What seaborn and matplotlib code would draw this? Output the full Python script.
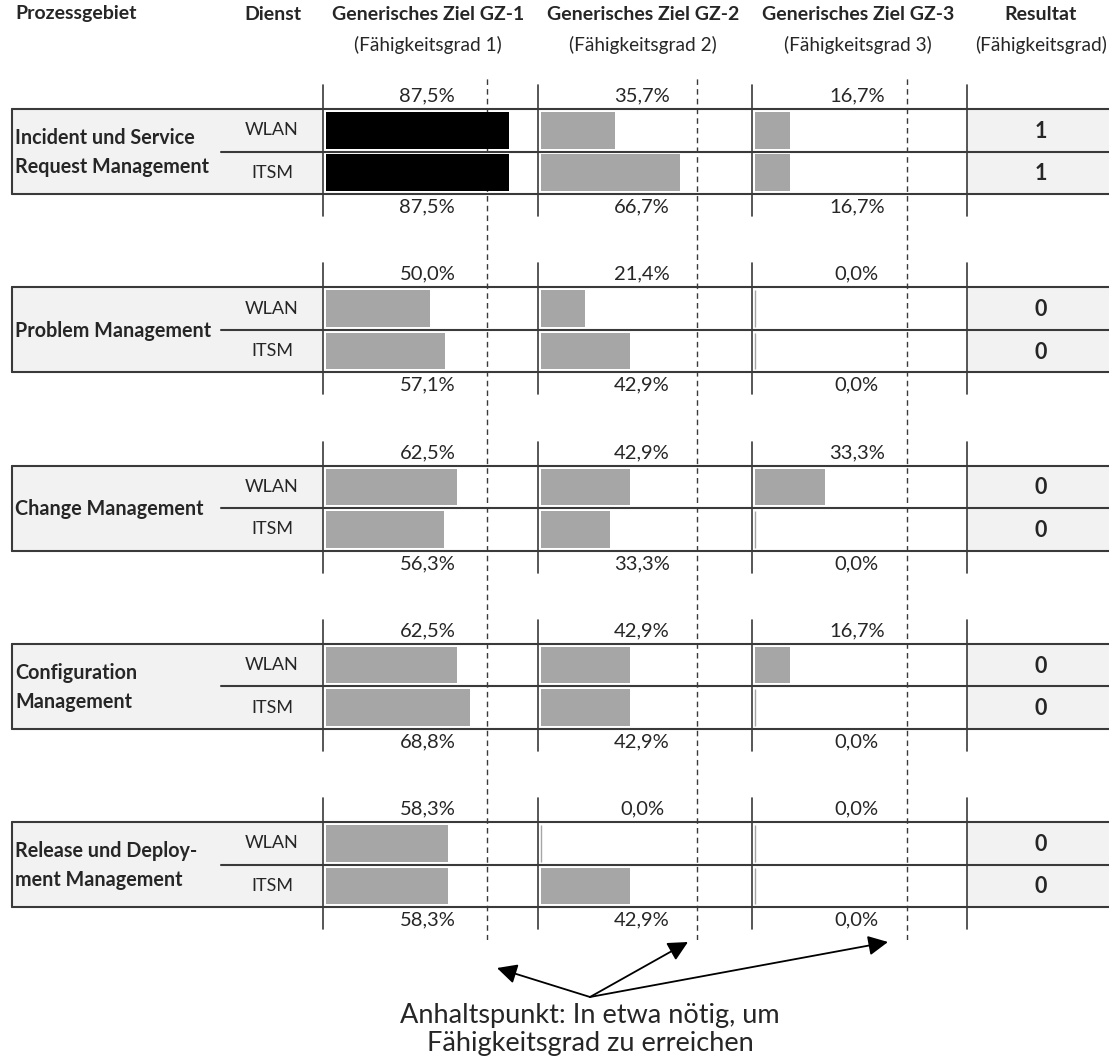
import numpy as np
import pandas as pd
import matplotlib
matplotlib.use("Agg")
import matplotlib.pyplot as plt
import seaborn as sns
from matplotlib.lines import Line2D
from matplotlib.patches import Rectangle, FancyArrowPatch
import matplotlib.transforms as mtransforms

# ---------------- data ----------------
prozessgebiete = ["Incident und Service\nRequest Management",
                  "Problem Management",
                  "Change Management",
                  "Configuration\nManagement",
                  "Release und Deploy-\nment Management"]
dienste = ["WLAN", "ITSM"]
ziele = ["Generisches Ziel GZ-1", "Generisches Ziel GZ-2", "Generisches Ziel GZ-3"]
ziele_sub = ["(Fähigkeitsgrad 1)", "(Fähigkeitsgrad 2)", "(Fähigkeitsgrad 3)"]
gz1_wlan = [87.5, 50.0, 62.5, 62.5, 58.3]
gz1_itsm = [87.5, 57.1, 56.3, 68.8, 58.3]
gz2_wlan = [35.7, 21.4, 42.9, 42.9, 0.0]
gz2_itsm = [66.7, 42.9, 33.3, 42.9, 42.9]
gz3_wlan = [16.7, 0.0, 33.3, 16.7, 0.0]
gz3_itsm = [16.7, 0.0, 0.0, 0.0, 0.0]
resultat_wlan = [1, 0, 0, 0, 0]
resultat_itsm = [1, 0, 0, 0, 0]
anhaltspunkt = [77.0, 74.8, 72.5]   # approx. needed level per goal
annotation = "Anhaltspunkt: In etwa nötig, um\nFähigkeitsgrad zu erreichen"

werte = {0: (gz1_wlan, gz1_itsm), 1: (gz2_wlan, gz2_itsm), 2: (gz3_wlan, gz3_itsm)}

# ---------------- style ----------------
sns.set_theme(style="white")
plt.rcParams["font.family"] = ["Lato", "DejaVu Sans"]

W, H = 1109, 1059
fig = plt.figure(figsize=(W / 100, H / 100), dpi=100)
fig.patch.set_facecolor("white")

def fx(x):
    return x / W

def fy(y):
    return 1 - y / H

LINE = "#3a3a3a"
FILL = "#f2f2f2"
COL_X0 = 323.0
COL_W = 214.7
BOX_L = 12
SEP_X = 221
TOP0 = 109
STEP = 178.3
BOX_H = 85
XLIM = (-1.44, 101.3)

# background axes with dashed guide lines
for c in range(3):
    bg = fig.add_axes([fx(COL_X0 + c * COL_W), fy(940), COL_W / W, (940 - 75) / H])
    bg.set_xlim(*XLIM)
    bg.set_ylim(0, 1)
    bg.axvline(anhaltspunkt[c], color=LINE, lw=1.0, ls=(0, (4, 3)))
    bg.axis("off")

# headers
hdr = dict(fontsize=14, fontweight="bold", va="center")
fig.text(fx(15), fy(14), "Prozessgebiet", ha="left", **hdr)
fig.text(fx(301), fy(14), "Dienst", ha="right", **hdr)
for c in range(3):
    cx = COL_X0 + c * COL_W + COL_W / 2 - 2
    fig.text(fx(cx), fy(14), ziele[c], ha="center", **hdr)
    fig.text(fx(cx), fy(45), ziele_sub[c], ha="center", va="center", fontsize=13.7)
fig.text(fx(1041), fy(14), "Resultat", ha="center", **hdr)
fig.text(fx(1041), fy(45), "(Fähigkeitsgrad)", ha="center", va="center", fontsize=13.7)

def fline(x0, y0, x1, y1, **kw):
    fig.add_artist(Line2D([fx(x0), fx(x1)], [fy(y0), fy(y1)],
                          transform=fig.transFigure, **kw))

for g, name in enumerate(prozessgebiete):
    T = TOP0 + g * STEP
    B = T + BOX_H
    M = T + BOX_H / 2
    # fills
    fig.add_artist(Rectangle((fx(BOX_L), fy(B)), (COL_X0 - BOX_L) / W, BOX_H / H,
                             transform=fig.transFigure, facecolor=FILL, edgecolor="none", zorder=0.5))
    fig.add_artist(Rectangle((fx(COL_X0 + 3 * COL_W), fy(B)), (W - COL_X0 - 3 * COL_W) / W, BOX_H / H,
                             transform=fig.transFigure, facecolor=FILL, edgecolor="none", zorder=0.5))
    # horizontal lines
    fline(BOX_L, T, W, T, color=LINE, lw=1.5)
    fline(BOX_L, B, W, B, color=LINE, lw=1.5)
    fline(SEP_X, M, W, M, color=LINE, lw=1.5)
    fline(BOX_L, T, BOX_L, B, color=LINE, lw=1.5)
    for c in range(4):
        x = COL_X0 + c * COL_W
        fline(x, T - 24, x, B + 22, color=LINE, lw=1.2)
    # labels
    fig.text(fx(15), fy(M + 1), name, ha="left", va="center", fontsize=14.2,
             fontweight="bold", linespacing=1.6)
    for r, d in enumerate(dienste):
        fig.text(fx(272), fy(T + BOX_H / 4 + r * BOX_H / 2), d, ha="center", va="center", fontsize=13)
    for r, res in enumerate([resultat_wlan[g], resultat_itsm[g]]):
        fig.text(fx(1041), fy(T + BOX_H / 4 + r * BOX_H / 2 + 1), str(res), ha="center", va="center",
                 fontsize=15.5, fontweight="bold")
    # bars
    for c in range(3):
        vals = [werte[c][0][g], werte[c][1][g]]
        df = pd.DataFrame({"Dienst": dienste, "Wert": vals,
                           "Status": ["erreicht" if v >= anhaltspunkt[c] else "offen" for v in vals]})
        ax = fig.add_axes([fx(COL_X0 + c * COL_W), fy(B), COL_W / W, BOX_H / H])
        sns.barplot(data=df, x="Wert", y="Dienst", hue="Status", orient="h", dodge=False,
                    palette={"erreicht": "#000000", "offen": "#a6a6a6"}, width=0.86,
                    legend=False, ax=ax, edgecolor=None, linewidth=0)
        # zero-valued bars: thin gray edge like the original
        for bar in ax.patches:
            if bar.get_width() == 0:
                bar.set_edgecolor("#a6a6a6")
                bar.set_linewidth(1.0)
        ax.set_xlim(*XLIM)
        ax.set_ylim(1.5, -0.5)
        ax.axis("off")
        trans = mtransforms.blended_transform_factory(ax.transData, ax.transAxes)
        lab = lambda v: f"{v:.1f}%".replace(".", ",")
        ax.text(48.5, 1 + 13 / BOX_H, lab(vals[0]), transform=trans, ha="center", va="center", fontsize=14.5)
        ax.text(48.5, -13 / BOX_H, lab(vals[1]), transform=trans, ha="center", va="center", fontsize=14.5)

# annotation with arrows
src = (fx(590), fy(997))
for tgt in [(497, 968), (688, 942), (888, 942)]:
    fig.add_artist(FancyArrowPatch(
        src, (fx(tgt[0]), fy(tgt[1])), transform=fig.transFigure,
        arrowstyle="-|>,head_length=8,head_width=4", color="black", lw=1.3,
        shrinkA=0, shrinkB=0, mutation_scale=1.5))
fig.text(fx(590), fy(1030), annotation, ha="center", va="center", fontsize=19.5, linespacing=1.15)

fig.savefig("out.png", dpi=100, facecolor="white")
